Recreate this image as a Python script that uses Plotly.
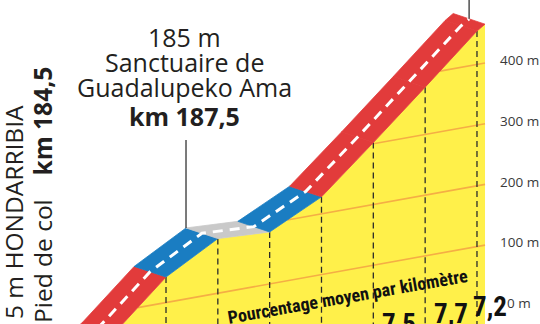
import plotly.graph_objects as go

# ---------------- data ----------------
km = [184.5, 185.5, 186.5, 187.5, 188.5, 189.5, 190.5, 191.5, 192.5, 192.655]
alt = [5, 65, 142, 190, 185.5, 228, 302, 378, 455, 464]
seg_class = ["steep", "steep", "mid", "flat", "mid", "steep", "steep", "steep", "steep"]
km_marks = [185.5, 186.5, 187.5, 188.5, 189.5, 190.5, 191.5, 192.5]
pct_km = [190.0, 191.0, 192.0, 192.75]
pct_labels = ["7,4", "7,5", "7,7", "7,2"]
grid_alts = [100, 200, 300, 400]
axis_alts = [0, 100, 200, 300, 400, 500]
axis_labels = ["0 m", "100 m", "200 m", "300 m", "400 m", "500 m"]

# ---------------- style / projection ----------------
COLORS = {"steep": "#E23B3B", "mid": "#1A7DC2", "flat": "#C9C9C9"}
YELLOW = "#FFF04A"
ORANGE = "#F5AE45"
SKEW = 15.37          # apparent rise (m) per km of the ground plane
KM_REF = 192.635
DK, DY = -0.614, 17.5  # depth offset of the road band
Y_LOW = -200
W, H = 540, 324
XR = [183.297, 193.716]
YR = [-29.65, 504.1]
REG = "Open Sans, Noto Sans, sans-serif"
NARROW = "Liberation Sans Narrow, Roboto Condensed, DejaVu Sans Condensed, sans-serif"


def proj(k, a):
    return a + SKEW * (k - KM_REF)


def alt_at(k):
    for i in range(len(km) - 1):
        if km[i] <= k <= km[i + 1]:
            t = (k - km[i]) / (km[i + 1] - km[i])
            return alt[i] + t * (alt[i + 1] - alt[i])
    return alt[-1]


fig = go.Figure()

# yellow front face
fx = km + [km[-1], km[0]]
fy = [proj(k, a) for k, a in zip(km, alt)] + [Y_LOW, Y_LOW]
fig.add_trace(go.Scatter(x=fx, y=fy, fill="toself", fillcolor=YELLOW, mode="lines",
                         line=dict(width=0, color=YELLOW)))

# orange altitude lines, clipped to the face
gx, gy = [], []
for g in grid_alts:
    pts = []
    for i in range(len(km) - 1):
        a0, a1 = alt[i], alt[i + 1]
        k0, k1 = km[i], km[i + 1]
        if (a0 - g) * (a1 - g) < 0:
            pts.append(k0 + (g - a0) / (a1 - a0) * (k1 - k0))
    inside = alt[0] > g
    start = km[0] if inside else None
    for kc in pts:
        if inside:
            gx += [start, kc, None]
            gy += [proj(start, g), proj(kc, g), None]
            inside = False
        else:
            start = kc
            inside = True
    if inside:
        gx += [start, km[-1], None]
        gy += [proj(start, g), proj(km[-1], g), None]
fig.add_trace(go.Scatter(x=gx, y=gy, mode="lines", line=dict(color=ORANGE, width=1.6)))

# dashed km markers
dx, dy = [], []
for k in km_marks:
    dx += [k, k, None]
    dy += [proj(k, alt_at(k)), Y_LOW, None]
fig.add_trace(go.Scatter(x=dx, y=dy, mode="lines",
                         line=dict(color="#2b2b2b", width=1.3, dash="6px,4px")))

# road band
for i in range(len(km) - 1):
    k0, k1 = km[i], km[i + 1]
    y0, y1 = proj(k0, alt[i]), proj(k1, alt[i + 1])
    c = COLORS[seg_class[i]]
    fig.add_trace(go.Scatter(
        x=[k0, k1, k1 + DK, k0 + DK, k0],
        y=[y0, y1, y1 + DY, y0 + DY, y0],
        fill="toself", fillcolor=c, mode="lines", line=dict(color=c, width=0.8)))

# white centre line
cx = [k + DK / 2 for k in km]
cy = [proj(k, a) + DY / 2 for k, a in zip(km, alt)]
fig.add_trace(go.Scatter(x=cx, y=cy, mode="lines",
                         line=dict(color="white", width=3, dash="10px,7px")))

# pointer lines
k_s = 187.5
fig.add_trace(go.Scatter(x=[k_s + DK, k_s + DK], y=[proj(k_s, alt_at(k_s)) + DY, 273.5],
                         mode="lines", line=dict(color="#333333", width=1.3)))
fig.add_trace(go.Scatter(x=[km[-1] + DK / 2, km[-1] + DK / 2],
                         y=[proj(km[-1], alt[-1]) + DY / 2, 560],
                         mode="lines", line=dict(color="#333333", width=1.3)))

ann = []
# right-hand altitude labels
for a, lab in zip(axis_alts, axis_labels):
    ann.append(dict(x=519 / W, xref="paper", y=a + 5, yref="y", text=lab,
                    xanchor="center", yanchor="middle", showarrow=False,
                    font=dict(family=REG, size=13.5, color="#3a3a3a")))

# percentages
for k, lab in zip(pct_km, pct_labels):
    ann.append(dict(x=k, y=proj(k, -4), xref="x", yref="y", text="<b>" + lab + "</b>",
                    xanchor="center", yanchor="middle", showarrow=False,
                    font=dict(family=NARROW, size=27, color="#111111")))

ann.append(dict(x=347 / W, y=1 - 296 / H, xref="paper", yref="paper",
                text="<b>Pourcentage moyen par kilomètre</b>", textangle=-10,
                xanchor="center", yanchor="middle", showarrow=False,
                font=dict(family=NARROW, size=18, color="#111111")))

# Sanctuaire label
top_lines = [("185 m", 37, False), ("Sanctuaire de", 62, False),
             ("Guadalupeko Ama", 87, False), ("km 187,5", 116, True)]
for t, yy, b in top_lines:
    ann.append(dict(x=184 / W, y=1 - yy / H, xref="paper", yref="paper",
                    text=("<b>%s</b>" % t) if b else t, xanchor="center", yanchor="middle",
                    showarrow=False, font=dict(family=REG, size=25, color="#231f20")))

# left rotated labels
ann.append(dict(x=13 / W, y=1 - 103 / H, xref="paper", yref="paper", text="5 m HONDARRIBIA",
                textangle=-90, xanchor="center", yanchor="top", showarrow=False,
                font=dict(family=REG, size=24.5, color="#231f20")))
ann.append(dict(x=42 / W, y=1 - 65 / H, xref="paper", yref="paper", text="<b>km 184,5</b>",
                textangle=-90, xanchor="center", yanchor="top", showarrow=False,
                font=dict(family=REG, size=24.5, color="#231f20")))
ann.append(dict(x=42 / W, y=1 - 197 / H, xref="paper", yref="paper", text="Pied de col",
                textangle=-90, xanchor="center", yanchor="top", showarrow=False,
                font=dict(family=REG, size=24.5, color="#231f20")))

fig.update_layout(
    width=W, height=H, margin=dict(l=0, r=0, t=0, b=0),
    paper_bgcolor="white", plot_bgcolor="white", showlegend=False, hovermode=False,
    xaxis=dict(range=XR, visible=False, fixedrange=True),
    yaxis=dict(range=YR, visible=False, fixedrange=True),
    annotations=ann,
)
fig.write_html("out.html", config={"displayModeBar": False})
